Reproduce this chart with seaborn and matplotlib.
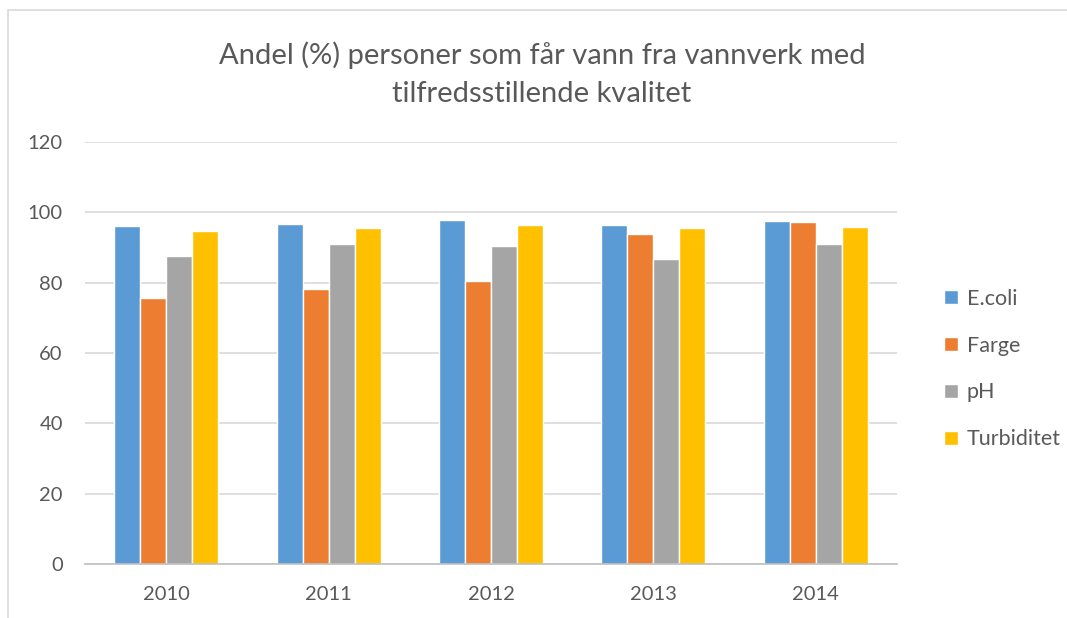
import matplotlib
matplotlib.use("Agg")
import matplotlib.pyplot as plt
import seaborn as sns
import pandas as pd
from matplotlib.patches import Rectangle

years = ["2010", "2011", "2012", "2013", "2014"]
series_names = ["E.coli", "Farge", "pH", "Turbiditet"]
ecoli = [96.0, 96.7, 97.8, 96.4, 97.5]
farge = [75.7, 78.3, 80.4, 93.7, 97.3]
ph = [87.6, 90.9, 90.4, 86.8, 90.9]
turbiditet = [94.8, 95.6, 96.4, 95.6, 95.7]
colors = ["#5B9BD5", "#ED7D31", "#A5A5A5", "#FFC000"]
yticks = [0, 20, 40, 60, 80, 100, 120]
title = "Andel (%) personer som får vann fra vannverk med\ntilfredsstillende kvalitet"

rows = []
for name, vals in zip(series_names, [ecoli, farge, ph, turbiditet]):
    for y, v in zip(years, vals):
        rows.append({"År": y, "Serie": name, "Verdi": v})
df = pd.DataFrame(rows)

sns.set_theme(style="white")
plt.rcParams["font.family"] = ["Lato", "DejaVu Sans"]
text_col = "#595959"

fig = plt.figure(figsize=(10.67, 6.18), dpi=100)
ax = fig.add_axes([85/1067, 1-564/618, (897-85)/1067, (564-142)/618])

sns.barplot(data=df, x="År", y="Verdi", hue="Serie", order=years,
            hue_order=series_names, palette=colors, width=0.64, gap=0,
            saturation=1, ax=ax, legend=True)

ax.set_ylim(0, 120)
ax.set_yticks(yticks)
ax.set_yticklabels([str(t) for t in yticks])
ax.set_xlabel("")
ax.set_ylabel("")
ax.yaxis.grid(True, color="#D9D9D9", linewidth=1.2)
ax.set_axisbelow(True)
for s in ["top", "right", "left"]:
    ax.spines[s].set_visible(False)
ax.spines["bottom"].set_color("#BFBFBF")
ax.spines["bottom"].set_linewidth(1.2)
ax.tick_params(axis="both", length=0, colors=text_col, labelsize=14.5)
ax.tick_params(axis="y", pad=16)
ax.tick_params(axis="x", pad=16)

h, l = ax.get_legend_handles_labels()
ax.get_legend().remove()
leg = fig.legend(h, l, loc="center left", bbox_to_anchor=(925/1067, 1-369/618),
                 frameon=False, fontsize=15.5, labelspacing=1.25,
                 handlelength=0.65, handleheight=0.65, handletextpad=0.4)
for t in leg.get_texts():
    t.set_color(text_col)

fig.text(542/1067, 1-74/618, title, ha="center", va="center",
         fontsize=21, color=text_col, linespacing=1.55)

fig.patches.append(Rectangle((8/1067, -0.1), 1.2, 1 - 10/618 + 0.1,
                             transform=fig.transFigure, fill=False,
                             edgecolor="#D9D9D9", linewidth=1.2))

fig.savefig("out.png", dpi=100, facecolor="white")
